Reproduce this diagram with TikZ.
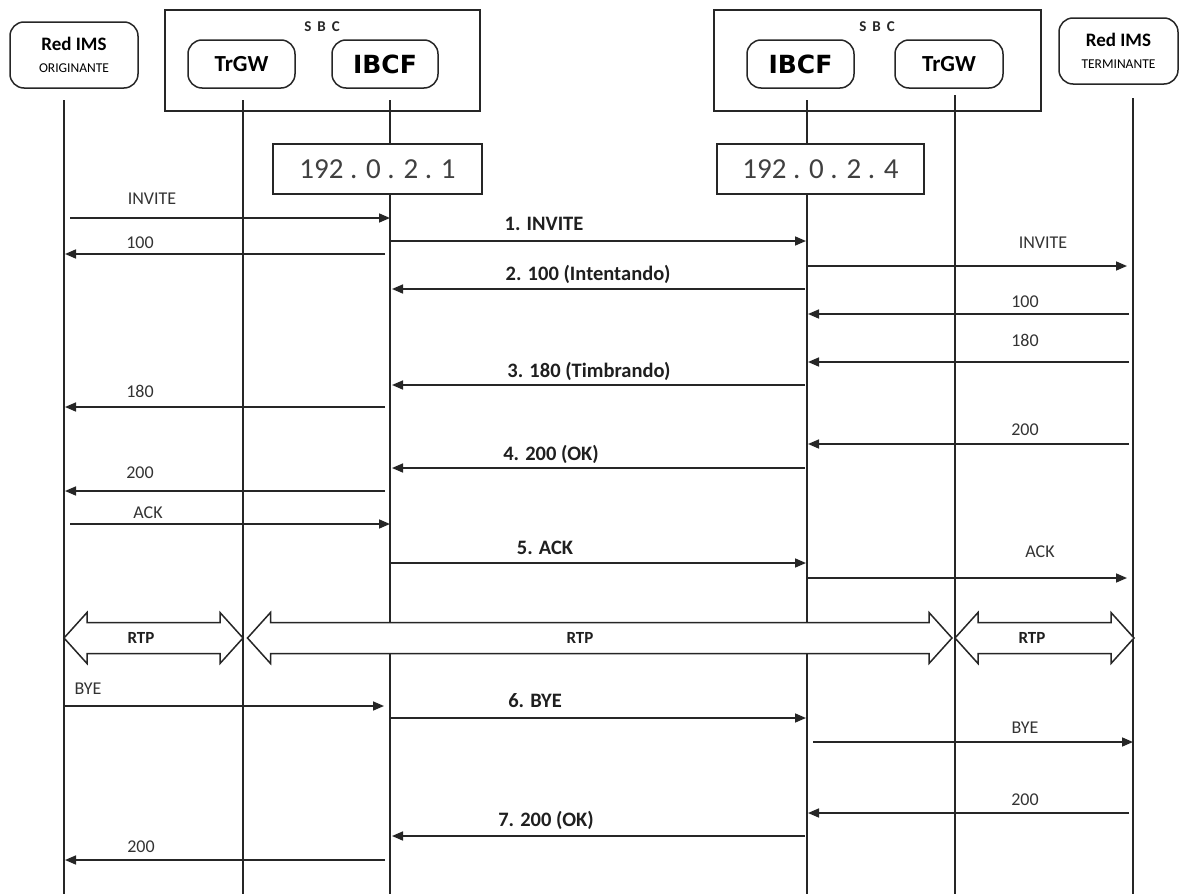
\documentclass[tikz,border=0pt]{standalone}
\usepackage{fontspec}
\setmainfont{Carlito}
\newfontfamily\dv{DejaVu Sans}
\usetikzlibrary{arrows.meta,calc}
\begin{document}
\begin{tikzpicture}[x=1pt,y=-1pt,
  ln/.style={line width=1.6pt, draw=black!85},
  box/.style={draw=black!85, line width=1.5pt, fill=white, inner sep=0pt},
  rbox/.style={box, rounded corners=14pt},
  msg/.style={line width=1.6pt, draw=black!85, -{Triangle[length=11pt,width=9pt]}},
  lab/.style={font=\fontsize{18}{20}\selectfont, text=black!80, inner sep=0pt},
  blab/.style={font=\bfseries\fontsize{20.5}{22}\selectfont, text=black!88, inner sep=0pt},
  rtp/.style={font=\bfseries\fontsize{17}{19}\selectfont, text=black!88, inner sep=0pt},
  band/.style={draw=black!85, line width=1.5pt, fill=white, line join=miter},
  sbc/.style={inner sep=0pt, font=\bfseries\fontsize{15}{17}\selectfont, text=black!85},
  ims/.style={rbox, align=center, font=\fontsize{19}{21.5}\selectfont}
]
\useasboundingbox (0,0) rectangle (1179,894);

% lifeline x positions
\coordinate (xO) at (64,0);
\coordinate (xT1) at (243,0);
\coordinate (xI1) at (390,0);
\coordinate (xI2) at (807,0);
\coordinate (xT2) at (955,0);
\coordinate (xR) at (1133,0);

% headers
\node[ims, minimum width=128pt, minimum height=66pt] (orig) at (74,55)
  {\bfseries Red IMS\\{\fontsize{13.5}{15}\selectfont ORIGINANTE}};
\node[box, minimum width=315pt, minimum height=101pt] (sbcL) at (322.5,60.5) {};
\node[box, minimum width=327pt, minimum height=101pt] (sbcR) at (877.5,60.5) {};
\node[sbc] (sbcLl) at (322,27) {S\hspace{6pt}B\hspace{6pt}C};
\node[sbc] (sbcRl) at (877,27) {S\hspace{6pt}B\hspace{6pt}C};
\node[rbox, minimum width=107pt, minimum height=48pt] (trgwL) at (241.5,64) {\bfseries\fontsize{23}{25}\selectfont TrGW};
\node[rbox, minimum width=106pt, minimum height=48pt] (ibcfL) at (385,64) {\dv\bfseries\fontsize{25}{27}\selectfont IBCF};
\node[rbox, minimum width=107pt, minimum height=48pt] (ibcfR) at (800.5,64) {\dv\bfseries\fontsize{25}{27}\selectfont IBCF};
\node[rbox, minimum width=108pt, minimum height=48pt] (trgwR) at (949,64) {\bfseries\fontsize{23}{25}\selectfont TrGW};
\node[ims, minimum width=119pt, minimum height=66pt] (term) at (1118.5,51)
  {\bfseries Red IMS\\{\fontsize{13.5}{15}\selectfont TERMINANTE}};

% lifelines
\draw[ln] ($(xO)+(0,100)$) -- ($(xO)+(0,894)$);
\draw[ln] ($(xT1)+(0,100)$) -- ($(xT1)+(0,894)$);
\draw[ln] ($(xI1)+(0,100)$) -- ($(xI1)+(0,894)$);
\draw[ln] ($(xI2)+(0,100)$) -- ($(xI2)+(0,894)$);
\draw[ln] ($(xT2)+(0,95)$) -- ($(xT2)+(0,894)$);
\draw[ln] ($(xR)+(0,98)$) -- ($(xR)+(0,894)$);

% IP boxes
\node[box, minimum width=209pt, minimum height=50pt, text=black!75] (ipL) at (377.5,169) {\fontsize{29}{31}\selectfont 192 . 0 . 2 . 1};
\node[box, minimum width=207pt, minimum height=50pt, text=black!75] (ipR) at (820.5,169) {\fontsize{29}{31}\selectfont 192 . 0 . 2 . 4};

% messages
\draw[msg] ($(xO)+(6,218)$) -- ($(xI1)+(0,218)$);
\node[lab] at (152,199) {INVITE};
\draw[msg] ($(xI1)+(-5,254)$) -- ($(xO)+(1,254)$);
\node[lab] at (140,243) {100};
\draw[msg] ($(xI1)+(0,241)$) -- ($(xI2)+(-1,241)$);
\node[blab] at (544,224) {1. INVITE};
\draw[msg] ($(xI2)+(0,266)$) -- ($(xR)+(-6,266)$);
\node[lab] at (1043,243) {INVITE};
\draw[msg] ($(xI2)+(-2,289)$) -- ($(xI1)+(2,289)$);
\node[blab] at (588,274) {2. 100 (Intentando)};
\draw[msg] ($(xR)+(-4,314)$) -- ($(xI2)+(1,314)$);
\node[lab] at (1025,302) {100};
\draw[msg] ($(xR)+(-4,362)$) -- ($(xI2)+(1,362)$);
\node[lab] at (1025,340) {180};
\draw[msg] ($(xI2)+(-2,385)$) -- ($(xI1)+(2,385)$);
\node[blab] at (589,371) {3. 180 (Timbrando)};
\draw[msg] ($(xI1)+(-5,407)$) -- ($(xO)+(1,407)$);
\node[lab] at (140,391) {180};
\draw[msg] ($(xR)+(-4,444)$) -- ($(xI2)+(1,444)$);
\node[lab] at (1025,430) {200};
\draw[msg] ($(xI2)+(-2,468)$) -- ($(xI1)+(2,468)$);
\node[blab] at (551,454) {4. 200 (OK)};
\draw[msg] ($(xI1)+(-5,491)$) -- ($(xO)+(1,491)$);
\node[lab] at (140,473) {200};
\draw[msg] ($(xO)+(6,524)$) -- ($(xI1)+(0,524)$);
\node[lab] at (148,513) {ACK};
\draw[msg] ($(xI1)+(0,563)$) -- ($(xI2)+(-1,563)$);
\node[blab] at (545,548) {5. ACK};
\draw[msg] ($(xI2)+(0,578)$) -- ($(xR)+(-6,578)$);
\node[lab] at (1040,552) {ACK};

% RTP bands
\newcommand{\rtpband}[2]{%
  \draw[band] (#1,638) -- (#1+23,612.5) -- (#1+23,622.5) -- (#2-23,622.5) -- (#2-23,612.5)
    -- (#2,638) -- (#2-23,663.5) -- (#2-23,653.5) -- (#1+23,653.5) -- (#1+23,663.5) -- cycle;}
\rtpband{64}{243}
\rtpband{247.5}{952}
\rtpband{955}{1134}
\node[rtp] at (141,638) {RTP};
\node[rtp] at (580,638) {RTP};
\node[rtp] at (1032,638) {RTP};

% BYE
\draw[msg] ($(xO)+(1,706)$) -- ($(xI1)+(-6,706)$);
\node[lab] at (88,689) {BYE};
\draw[msg] ($(xI1)+(0,718)$) -- ($(xI2)+(-1,718)$);
\node[blab] at (535,701) {6. BYE};
\draw[msg] ($(xI2)+(6,742)$) -- ($(xR)+(0,742)$);
\node[lab] at (1025,728) {BYE};
\draw[msg] ($(xR)+(-4,813)$) -- ($(xI2)+(1,813)$);
\node[lab] at (1025,800) {200};
\draw[msg] ($(xI2)+(-2,836)$) -- ($(xI1)+(2,836)$);
\node[blab] at (546,820) {7. 200 (OK)};
\draw[msg] ($(xI1)+(-5,860)$) -- ($(xO)+(1,860)$);
\node[lab] at (141,847) {200};
\end{tikzpicture}
\end{document}
